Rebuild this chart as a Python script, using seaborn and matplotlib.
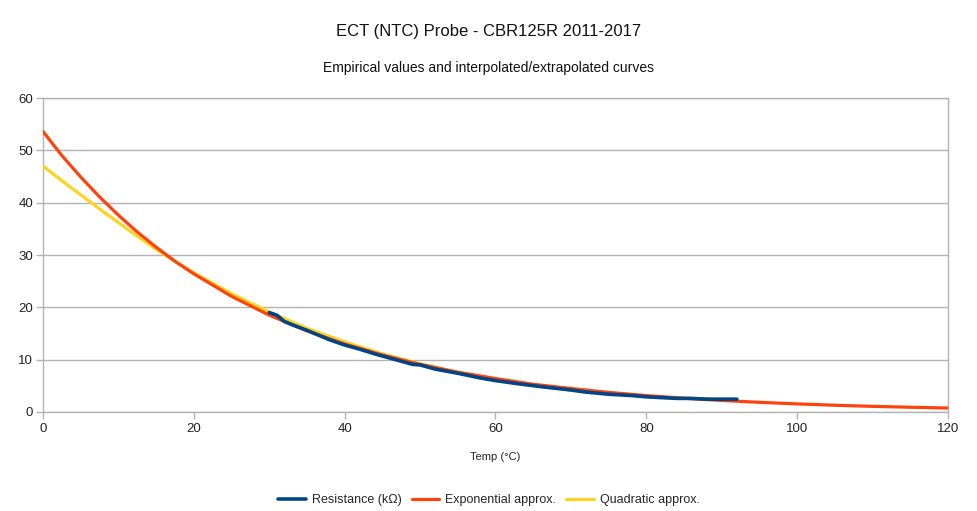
import matplotlib
matplotlib.use("Agg")
import matplotlib.pyplot as plt
import seaborn as sns
import pandas as pd

# Measured data (resistance in kOhm vs temperature in degC)
data_temp = [30, 31, 32, 33, 35, 38, 40, 42, 44, 46, 48, 49, 50, 52, 55, 58, 60,
             63, 66, 70, 72, 75, 78, 80, 84, 86, 88, 90, 92]
data_res = [19.0, 18.5, 17.3, 16.7, 15.6, 13.8, 12.8, 12.0, 11.1, 10.3, 9.5, 9.1, 9.0,
            8.2, 7.4, 6.5, 6.0, 5.4, 4.85, 4.2, 3.8, 3.4, 3.15, 2.9, 2.6, 2.6, 2.45,
            2.45, 2.45]

# Exponential approximation
exp_temp = [0, 2.5, 5, 7.5, 10, 12.5, 15, 17.5, 20, 25, 30, 35, 40, 45, 50, 55, 60,
            65, 70, 75, 80, 85, 90, 95, 100, 105, 110, 115, 120]
exp_res = [53.6, 49.0, 44.9, 41.1, 37.6, 34.4, 31.5, 28.8, 26.4, 22.1, 18.5, 15.5,
           13.0, 10.9, 9.1, 7.6, 6.4, 5.3, 4.5, 3.75, 3.14, 2.63, 2.20, 1.85, 1.55,
           1.29, 1.08, 0.91, 0.76]

# Quadratic approximation
quad_temp = [0, 2.5, 5, 7.5, 10, 12.5, 15, 17.5, 20, 25, 30, 35, 40, 45, 50, 55, 60,
             65, 70, 75, 80, 85, 90]
quad_res = [47.0, 44.2, 41.5, 38.8, 36.2, 33.6, 31.1, 28.8, 26.6, 22.6, 19.1, 16.0,
            13.4, 11.1, 9.2, 7.6, 6.2, 5.1, 4.2, 3.5, 3.0, 2.6, 2.4]

labels = ["Resistance (kΩ)", "Exponential approx.", "Quadratic approx."]
colors = ["#004586", "#ff420e", "#ffd320"]

sns.set_theme(style="white")
plt.rcParams["font.family"] = ["Liberation Sans", "DejaVu Sans"]

fig = plt.figure(figsize=(9.78, 5.11), dpi=100)
ax = fig.add_axes([43 / 978, 1 - 412 / 511, (948 - 43) / 978, (412 - 98) / 511])

df_q = pd.DataFrame({"t": quad_temp, "r": quad_res})
df_e = pd.DataFrame({"t": exp_temp, "r": exp_res})
df_d = pd.DataFrame({"t": data_temp, "r": data_res})

sns.lineplot(data=df_q, x="t", y="r", ax=ax, color=colors[2], linewidth=2.3,
             label=labels[2], zorder=3)
sns.lineplot(data=df_e, x="t", y="r", ax=ax, color=colors[1], linewidth=2.3,
             label=labels[1], zorder=4)
sns.lineplot(data=df_d, x="t", y="r", ax=ax, color=colors[0], linewidth=2.6,
             label=labels[0], zorder=5)

ax.set_xlim(0, 120)
ax.set_ylim(0, 60)
ax.set_xticks(range(0, 121, 20))
ax.set_yticks(range(0, 61, 10))
ax.grid(axis="y", color="#b3b3b3", linewidth=1)
ax.grid(axis="x", visible=False)
for s in ax.spines.values():
    s.set_color("#b3b3b3")
    s.set_linewidth(1)
ax.tick_params(axis="both", which="both", length=5, width=1, color="#b3b3b3",
               labelsize=9.5, labelcolor="#222222", direction="out",
               bottom=True, left=True)
ax.tick_params(axis="x", pad=3)
ax.tick_params(axis="y", pad=2)

ax.set_xlabel("Temp (°C)", fontsize=8, color="#222222", labelpad=12)
ax.set_ylabel("")

fig.text(0.5, 1 - 31 / 511, "ECT (NTC) Probe - CBR125R 2011-2017", ha="center",
         va="center", fontsize=12, color="#111111")
fig.text(0.5, 1 - 68 / 511, "Empirical values and interpolated/extrapolated curves",
         ha="center", va="center", fontsize=10, color="#111111")

handles, lbls = ax.get_legend_handles_labels()
order = [lbls.index(l) for l in labels]
ax.legend([handles[i] for i in order], [lbls[i] for i in order],
          loc="center", bbox_to_anchor=(0.5, (1 - 500 / 511)), bbox_transform=fig.transFigure,
          ncol=3, frameon=False, fontsize=9, handlelength=2.2, handletextpad=0.5,
          columnspacing=0.8)

fig.savefig("out.png", dpi=100)
